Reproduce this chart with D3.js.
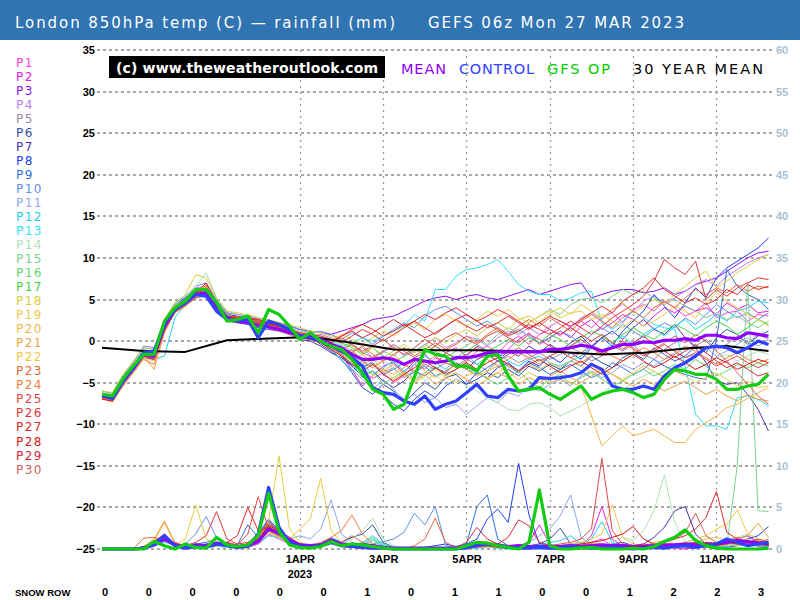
<!DOCTYPE html>
<html>
<head>
<meta charset="utf-8">
<script src="https://cdn.jsdelivr.net/npm/d3@7/dist/d3.min.js"></script>
<style>
html,body{margin:0;padding:0;background:#fff;}
svg{display:block;}
</style>
</head>
<body>
<svg id="chart" width="800" height="600"></svg>
<script>
// ================= DATA =================
const titleLeft = "London 850hPa temp (C) \u2014 rainfall (mm)";
const titleRight = "GEFS 06z Mon 27 MAR 2023";
const hours = [0,6,12,18,24,30,36,42,48,54,60,66,72,78,84,90,96,102,108,114,120,126,132,138,144,150,156,162,168,174,180,186,192,198,204,210,216,222,228,234,240,246,252,258,264,270,276,282,288,294,300,306,312,318,324,330,336,342,348,354,360,366,372,378,384];
const dateTickHours = [114,162,210,258,306,354];
const dateTickLabels = ["1APR","3APR","5APR","7APR","9APR","11APR"];
const yearLabel = "2023";
const tempTicks = [-25,-20,-15,-10,-5,0,5,10,15,20,25,30,35];
const rainTicks = [0,5,10,15,20,25,30,35,40,45,50,55,60];
const snowVals = [0,0,0,0,0,0,1,0,1,1,0,0,1,2,2,3];
const memberNames = ["P1","P2","P3","P4","P5","P6","P7","P8","P9","P10","P11","P12","P13","P14","P15","P16","P17","P18","P19","P20","P21","P22","P23","P24","P25","P26","P27","P28","P29","P30"];
const memberColors = ["#ff40d8","#e020e8","#9010f0","#c080f0","#a088a8","#3050a8","#5030b0","#2040f8","#3070e0","#6090e8","#90a8e8","#20d0f0","#30e0f8","#b0e0b8","#80d090","#60d870","#40d840","#d8d040","#f0c850","#f0b848","#f0a040","#f0c840","#e86838","#f08040","#e04848","#e03838","#e02828","#d81818","#d82838","#d06060"];
const legendItems = ["MEAN","CONTROL","GFS OP","30 YEAR MEAN"];
const legendColors = ["#9000ff","#3040ff","#00cc00","#000000"];
const watermark = "(c) www.theweatheroutlook.com";

// 850hPa temperature (C), 6-hourly
const meanT = [-6.6,-6.8,-4.9,-3.3,-1.6,-1.8,1.8,3.8,4.6,5.6,5.8,4.2,2.8,2.4,2.2,1.9,1.7,1.4,1.0,0.7,0.5,0.2,-0.4,-0.8,-1.6,-2.2,-2.2,-2.0,-2.2,-2.8,-2.2,-2.4,-2.6,-2.4,-2.0,-2.0,-1.8,-1.4,-1.3,-1.3,-1.3,-1.3,-1.3,-1.0,-1.0,-0.8,-0.5,-0.7,-1.2,-0.8,-0.4,-0.4,-0.1,-0.2,0.1,0.1,0.3,0.1,0.7,0.7,0.4,0.3,1.0,0.8,0.6];
const controlT = [-6.5,-6.9,-4.8,-3.2,-1.4,-1.2,2.0,3.8,4.6,5.6,5.4,3.6,2.6,2.4,2.6,0.4,2.4,2.0,1.4,0.6,0.4,0.0,-0.6,-1.2,-2.0,-3.0,-5.6,-6.2,-6.4,-7.2,-7.6,-6.6,-8.2,-7.6,-7.2,-6.2,-5.2,-6.6,-6.8,-5.8,-6.0,-5.8,-4.4,-4.5,-4.4,-4.2,-3.8,-2.8,-3.4,-5.4,-5.8,-5.8,-5.4,-5.8,-4.2,-3.2,-2.6,-1.8,-0.8,-0.6,-0.8,-1.4,-0.8,0.0,-0.4];
const opT = [-6.4,-6.6,-4.6,-3.0,-1.6,-1.6,2.4,4.0,4.8,6.2,6.2,4.6,2.4,2.6,3.0,1.0,3.8,3.2,1.8,0.2,1.0,0.0,-0.6,-1.0,-2.2,-3.8,-5.8,-6.4,-8.2,-7.6,-4.3,-1.0,-1.6,-1.8,-3.0,-3.0,-3.6,-1.8,-1.6,-4.2,-6.0,-5.8,-5.6,-6.4,-7.0,-6.2,-5.4,-7.0,-6.4,-6.0,-5.8,-6.2,-6.8,-6.4,-4.6,-3.4,-3.6,-4.0,-4.0,-4.6,-5.8,-5.8,-5.4,-5.2,-4.0];
const climHours = [0,24,48,72,96,120,144,168,192,216,240,264,288,312,336,360,384];
const climT = [-0.8,-1.2,-1.3,0.1,0.3,0.5,-0.2,-1.0,-1.1,-1.1,-1.2,-1.3,-1.6,-1.4,-0.9,-0.6,-1.2];

const t1 = [-6.5,-6.9,-5.0,-3.4,-1.8,-1.9,1.6,3.6,4.4,5.4,5.9,4.0,2.6,2.4,2.7,2.0,2.3,1.5,1.0,0.4,0.7,0.0,-0.8,-1.5,-2.8,-3.6,-4.5,-3.8,-5.0,-4.2,-2.8,-3.4,-2.0,-2.6,-1.8,-2.4,-1.2,-0.6,-1.4,-0.2,0.6,-0.4,0.8,1.4,0.6,1.8,2.4,1.6,2.8,3.4,2.2,3.8,4.4,3.6,4.8,4.0,3.0,3.6,4.6,2.8,3.4,3.6,2.4,3.2,3.0];
const t2 = [-6.8,-7.0,-4.6,-3.0,-1.4,-1.6,2.0,4.0,4.8,5.8,5.6,4.4,3.0,2.8,2.4,2.4,2.0,1.8,1.4,0.8,0.4,0.4,-0.6,-1.8,-3.4,-5.4,-4.2,-3.0,-2.6,-3.8,-2.4,-1.6,-2.8,-1.4,-0.8,-1.8,-0.6,-1.2,-2.0,-1.0,0.2,1.0,-0.4,0.4,1.2,0.4,1.8,2.6,1.4,2.2,3.2,2.6,1.8,3.0,4.0,3.4,4.2,3.6,4.0,3.2,4.6,3.8,4.4,3.4,3.6];
const t3 = [-6.4,-6.6,-4.8,-3.2,-1.5,-1.4,2.2,4.0,5.0,6.0,6.2,4.6,3.2,3.0,2.8,2.6,2.4,2.2,1.8,1.4,1.2,1.0,0.8,1.2,1.6,2.0,2.6,2.8,3.0,3.6,4.2,4.8,5.2,5.4,5.0,5.4,5.6,5.2,5.0,5.4,5.8,6.2,5.6,6.0,6.4,6.8,7.0,5.2,5.6,6.0,6.2,6.2,5.8,6.0,6.4,5.6,6.0,6.8,7.2,7.6,8.4,9.2,10.0,10.6,10.8];
const t4 = [-6.2,-6.5,-4.4,-3.0,-1.2,-1.2,2.4,4.2,5.2,6.4,6.6,4.8,3.4,3.2,3.0,2.4,2.6,2.0,1.6,1.2,0.8,0.8,0.4,-0.4,-1.2,-0.8,-2.0,-1.4,-0.6,-1.8,-1.2,-0.4,0.4,-0.8,-0.2,0.6,0.2,-0.6,0.4,1.2,0.8,1.6,0.8,1.8,2.4,1.6,2.8,3.4,2.6,3.8,4.4,3.6,4.8,5.4,4.6,5.2,6.0,6.8,7.4,6.6,7.8,8.6,9.4,10.0,10.4];
const t5 = [-6.9,-7.2,-5.2,-3.6,-1.8,-2.0,1.4,3.6,4.2,5.2,5.4,4.0,2.6,2.8,2.4,2.2,1.8,1.8,1.2,0.6,0.4,0.0,-0.6,-1.2,-2.4,-3.0,-2.6,-3.8,-3.2,-4.4,-3.6,-2.8,-3.4,-2.6,-3.0,-2.2,-2.8,-3.6,-2.4,-1.8,-2.6,-2.0,-1.4,-2.2,-1.6,-0.8,-1.4,-2.4,-1.8,-0.6,-1.2,-0.4,-1.6,-2.2,-1.0,-0.2,0.4,-0.6,0.2,-1.0,-0.4,0.6,-0.2,0.8,0.2];
const t6 = [-6.6,-7.0,-5.0,-3.0,-1.2,-1.6,2.0,4.2,4.8,5.8,5.6,4.4,2.8,2.4,2.6,1.8,2.0,1.4,1.0,0.4,0.6,-0.4,-1.2,-2.2,-3.8,-5.6,-6.4,-5.2,-6.0,-7.4,-6.2,-5.0,-5.8,-4.4,-4.0,-5.2,-4.6,-3.8,-4.4,-3.4,-4.2,-3.0,-3.6,-2.8,-3.4,-2.4,-3.0,-1.8,-2.6,-3.2,-2.0,-1.4,-2.2,-0.8,-1.6,-2.4,-1.8,-0.6,-1.4,0.4,1.4,0.8,-0.4,0.6,1.2];
const t7 = [-6.8,-7.3,-5.4,-3.6,-2.0,-2.2,1.2,3.4,4.4,5.2,5.6,3.8,2.4,2.2,2.0,1.6,1.4,1.2,0.8,0.2,0.0,-0.6,-1.4,-2.0,-3.0,-4.2,-3.6,-4.8,-5.6,-4.8,-3.6,-4.2,-3.2,-3.8,-2.6,-3.4,-2.2,-1.6,-2.4,-1.2,-1.8,-0.6,-1.4,-0.4,-1.2,-0.2,0.6,-0.6,0.4,1.2,0.2,1.6,2.6,1.4,0.8,2.0,0.4,-0.8,-2.6,-4.8,-5.2,-5.0,-6.4,-8.2,-10.8];
const t8 = [-6.4,-6.8,-4.6,-2.8,-1.0,-1.4,2.2,4.4,5.2,6.0,6.2,4.6,3.0,2.8,2.2,2.4,1.8,1.6,1.2,0.8,0.2,0.2,-0.4,-1.6,-3.0,-4.2,-5.6,-6.4,-7.6,-8.4,-7.0,-6.0,-6.8,-5.4,-4.6,-5.2,-3.8,-4.4,-3.2,-2.6,-3.6,-2.4,-3.0,-1.8,-2.6,-1.4,-2.2,-0.8,0.4,-0.6,1.2,2.4,3.6,5.6,4.2,2.8,4.6,6.4,5.2,7.6,8.8,9.6,10.4,11.2,12.4];
const t9 = [-6.7,-6.9,-5.1,-3.4,-1.4,-1.9,1.6,3.8,4.6,5.6,6.0,4.2,2.6,2.8,2.6,2.2,2.4,1.4,1.4,0.6,0.8,0.4,-0.2,-0.8,-2.0,-3.2,-2.6,-4.0,-3.4,-2.6,-3.8,-3.0,-4.2,-3.6,-2.8,-3.4,-4.0,-3.2,-2.4,-3.0,-3.8,-2.6,-3.2,-4.0,-3.4,-2.8,-3.6,-4.4,-3.8,-2.6,-3.2,-4.0,-3.4,-2.2,-3.0,-3.6,-4.0,-4.4,-4.6,0.2,8.6,6.6,5.6,5.0,3.8];
const t10 = [-6.0,-6.3,-4.2,-2.6,-0.6,-0.8,2.6,4.6,5.4,6.6,7.0,5.0,3.4,3.2,3.0,2.8,2.4,2.2,1.8,1.4,1.0,1.2,0.8,0.2,1.0,0.4,-0.4,0.6,1.4,2.2,1.6,3.0,3.8,4.2,3.4,2.6,1.8,2.4,1.6,0.8,1.4,0.6,-0.2,0.4,1.2,0.6,-0.4,0.8,1.6,0.8,2.0,1.2,0.4,1.4,2.2,1.6,2.8,2.0,3.2,4.4,3.6,2.8,3.4,2.6,3.4];
const t11 = [-6.3,-6.6,-4.4,-2.8,-0.8,-1.0,2.2,4.0,4.8,5.8,6.0,4.4,3.2,2.6,2.4,2.4,2.0,1.6,1.4,0.8,0.6,0.2,-0.8,-2.4,-3.4,-4.6,-5.8,-4.6,-5.8,-7.0,-6.4,-7.4,-6.8,-8.0,-7.6,-8.8,-7.8,-6.8,-7.4,-6.2,-6.6,-5.4,-6.0,-5.2,-4.6,-5.4,-4.2,-3.6,-4.4,-3.8,-2.8,-3.4,-2.6,-3.0,-2.2,-1.4,-2.0,-1.6,-0.8,-1.8,-1.2,-0.4,0.4,-0.6,0.2];
const t12 = [-6.6,-6.9,-4.8,-3.2,-1.8,-2.2,-1.8,2.8,4.4,5.6,5.4,4.0,2.6,2.8,2.4,2.0,1.8,1.4,1.0,0.4,0.2,-0.2,-1.0,-2.2,-3.6,-2.8,-4.0,-3.2,-2.4,-3.6,-2.8,-1.8,-2.6,-3.4,-2.2,-1.6,-2.8,-2.0,-1.4,-2.4,-3.0,-2.2,-1.8,-2.6,-3.0,-2.4,-1.8,-0.6,-1.4,-0.2,0.6,-0.4,0.8,1.6,0.6,1.8,2.6,1.4,2.2,3.2,2.4,3.6,4.0,4.8,4.6];
const t13 = [-6.5,-6.8,-4.7,-3.0,-1.4,-1.6,2.0,3.8,4.6,5.6,5.8,4.2,2.8,2.6,2.8,2.2,2.0,1.8,1.2,0.8,0.4,0.6,0.0,-0.6,-0.2,0.4,0.0,0.6,1.2,1.8,3.2,2.4,6.2,6.2,7.8,8.6,8.8,9.2,9.8,8.4,6.8,6.0,5.6,5.6,4.8,5.2,5.8,6.0,2.2,1.4,2.4,3.6,2.8,2.0,1.6,1.4,-3.0,-8.8,-10.2,-10.2,-10.6,-6.8,-6.6,-7.0,-7.8];
const t14 = [-6.2,-6.4,-4.4,-2.8,-1.0,-1.2,2.4,4.4,5.4,6.6,8.2,5.2,3.6,3.2,2.8,2.6,2.4,2.0,1.6,1.2,1.0,0.6,0.2,-0.4,-1.2,-2.4,-3.0,-2.2,-3.4,-4.2,-3.6,-4.8,-4.0,-5.2,-4.6,-5.4,-6.0,-6.8,-7.4,-8.2,-8.4,-7.6,-7.4,-8.0,-9.0,-8.4,-7.8,-7.0,-6.2,-5.4,-6.0,-4.8,-4.2,-3.6,-4.4,-3.2,-2.6,-3.4,-2.8,-2.0,-1.6,-2.4,-1.8,-1.2,-1.6];
const t15 = [-6.8,-7.1,-5.0,-3.4,-1.6,-2.0,1.8,3.8,4.8,5.8,6.0,4.2,3.0,2.6,2.6,2.4,2.2,1.6,1.2,0.6,0.6,0.2,-0.4,-1.0,-1.8,-2.6,-2.0,-1.2,-1.8,-0.8,-1.4,-0.4,-1.2,-2.0,-1.2,-0.6,0.4,-0.4,0.8,1.6,1.0,2.2,3.0,3.8,3.2,4.4,5.0,5.2,4.6,5.4,6.2,5.6,6.0,5.2,4.4,5.0,4.2,3.6,2.8,3.4,2.6,3.0,2.2,1.6,2.4];
const t16 = [-6.6,-6.9,-4.9,-3.3,-1.4,-1.6,2.0,4.0,4.6,5.4,5.8,4.0,2.8,2.6,2.4,2.2,2.0,1.6,1.2,0.8,0.4,0.0,-0.6,-1.8,-2.6,-4.4,-3.6,-5.2,-4.4,-3.6,-4.6,-3.8,-3.0,-4.2,-3.4,-2.8,-3.6,-4.6,-5.2,-4.4,-3.6,-4.8,-5.6,-4.6,-4.0,-5.2,-4.4,-3.8,-4.6,-5.4,-4.8,-4.0,-3.4,-4.2,-3.6,-2.8,-3.4,-2.2,-3.0,-4.2,-3.6,-2.8,-3.2,-2.6,-3.0];
const t17 = [-6.4,-6.7,-4.6,-3.0,-1.3,-1.4,2.2,4.2,5.0,6.0,6.4,4.8,3.2,2.8,2.6,2.4,2.2,1.8,1.2,1.0,0.8,0.4,0.2,-0.2,-0.8,-1.6,-0.8,-1.8,-2.6,-1.8,-1.0,-1.6,-0.6,-1.4,-2.0,-1.2,-0.4,-1.2,-0.6,0.2,-0.6,0.4,-0.2,0.8,0.2,-0.6,0.4,1.2,0.6,-0.2,0.8,1.6,0.8,0.2,1.2,2.0,1.4,0.6,1.6,2.4,1.8,0.8,1.6,2.6,2.0];
const t18 = [-6.0,-6.2,-4.0,-2.4,-0.8,-1.0,2.6,4.6,5.6,8.0,7.6,5.2,3.6,3.4,3.2,2.8,2.6,2.2,2.0,1.6,1.2,1.0,0.6,0.2,-0.6,-1.4,-0.8,-2.0,-1.2,-0.4,-1.4,-0.6,0.4,-0.2,0.8,1.4,0.6,1.6,2.2,1.4,2.6,3.0,2.2,3.4,4.0,3.2,4.4,3.6,2.8,3.8,4.6,3.4,4.2,5.0,4.4,5.6,6.6,7.6,8.4,6.4,7.2,8.2,9.0,9.8,10.4];
const t19 = [-6.9,-7.2,-5.2,-3.8,-2.0,-2.4,1.4,3.4,4.4,5.4,5.6,4.0,2.6,2.4,2.2,1.8,1.6,1.2,0.8,0.2,0.4,-0.2,-0.8,-1.6,-2.4,-3.2,-4.2,-3.4,-4.6,-3.8,-5.0,-4.2,-3.4,-4.4,-5.0,-4.2,-3.6,-4.4,-3.8,-3.0,-3.6,-2.8,-3.4,-2.6,-3.2,-2.4,-3.0,-3.8,-3.2,-4.0,-4.6,-3.8,-3.0,-3.6,-4.4,-3.6,-4.2,-5.0,-4.4,-3.8,-4.6,-5.4,-4.8,-5.6,-5.4];
const t20 = [-6.5,-6.8,-4.8,-3.2,-1.6,-1.6,2.0,4.0,4.6,5.6,5.8,4.2,2.8,2.6,2.6,2.2,2.0,1.6,1.2,0.6,0.6,0.2,-0.4,-1.2,-2.0,-2.8,-2.2,-3.4,-4.0,-3.2,-2.4,-3.6,-4.4,-3.6,-2.8,-3.4,-4.2,-3.6,-3.0,-3.8,-4.6,-3.8,-4.4,-5.0,-4.6,-5.0,-5.4,-9.0,-12.6,-11.4,-10.2,-11.4,-11.0,-10.6,-11.4,-12.2,-12.2,-10.6,-9.8,-9.0,-8.0,-7.6,-6.9,-6.2,-5.6];
const t21 = [-6.7,-7.0,-5.0,-3.5,-1.8,-3.4,1.0,3.6,4.4,5.4,5.8,4.0,2.8,2.4,2.4,2.0,2.0,1.4,1.0,0.4,0.6,0.0,-0.6,-1.4,-2.2,-1.6,-2.8,-3.6,-2.8,-4.0,-4.8,-4.0,-5.2,-4.4,-3.8,-4.6,-5.4,-4.6,-3.8,-4.4,-5.2,-4.4,-5.0,-4.2,-3.6,-4.4,-5.0,-4.2,-3.4,-4.0,-4.8,-5.4,-4.6,-5.2,-6.0,-5.4,-4.8,-5.6,-6.4,-5.8,-6.6,-7.2,-6.4,-7.0,-7.2];
const t22 = [-6.3,-6.5,-4.4,-2.8,-1.2,-1.4,2.4,4.2,5.0,6.2,6.6,4.6,3.0,2.8,2.8,2.6,2.2,2.0,1.6,1.0,0.8,0.6,0.2,0.8,0.2,-0.4,0.4,1.2,0.6,1.6,2.2,1.4,2.6,3.2,2.4,1.8,2.6,3.6,3.0,3.8,2.8,2.2,3.0,3.6,2.8,3.4,3.6,2.6,3.2,2.4,1.6,2.6,1.8,2.4,3.2,4.2,3.6,2.8,4.6,5.8,4.8,4.0,3.2,2.6,1.8];
const t23 = [-6.8,-7.0,-5.1,-3.4,-1.8,-1.6,1.6,3.8,4.2,5.4,6.8,3.4,2.8,3.0,2.4,2.2,2.0,1.6,1.2,0.8,0.6,0.2,-0.2,-0.8,-1.4,-0.6,-1.6,-2.4,-1.6,-0.8,-1.8,-1.0,-0.2,-1.0,-0.4,0.6,-0.2,0.8,1.6,0.8,1.8,2.6,1.8,2.8,2.0,1.2,2.4,3.2,2.4,1.6,2.8,3.6,2.8,4.0,4.8,4.0,5.2,6.2,5.6,6.4,5.8,6.8,6.0,6.6,6.4];
const t24 = [-6.9,-7.3,-5.4,-3.8,-2.2,-2.8,1.2,3.4,4.2,5.2,5.6,3.8,2.4,2.2,2.4,2.0,1.8,1.2,1.0,0.4,0.2,-0.2,-0.8,-1.6,-1.0,-2.4,-3.2,-2.4,-1.6,-2.8,-3.6,-2.6,-1.8,-2.6,-3.2,-2.4,-1.6,-2.2,-3.0,-2.2,-1.4,-2.0,-2.8,-1.8,-1.2,-2.0,-2.6,-1.8,-1.0,-1.8,-2.4,-1.6,-0.8,-1.4,-2.2,-1.6,-0.6,-1.2,-2.0,-2.8,-2.0,-1.4,-2.2,-2.6,-2.2];
const t25 = [-6.6,-7.0,-4.8,-3.2,-1.6,-2.0,1.8,3.6,4.6,5.6,6.2,4.0,2.6,2.6,2.8,2.4,2.0,1.8,1.4,0.8,0.4,0.2,-0.2,0.4,-0.4,-1.2,-0.6,0.2,-0.8,-1.6,-0.8,0.2,-0.6,0.4,1.0,0.2,-0.4,0.6,1.2,0.4,-0.2,0.8,0.2,-0.6,-1.4,-0.6,0.2,-0.8,-1.6,-0.8,0.0,-1.0,-1.8,-1.2,-0.4,-1.2,-2.0,-1.4,-2.2,-3.0,-2.4,-1.8,-2.6,-3.2,-2.6];
const t26 = [-6.4,-6.6,-4.6,-3.0,-1.4,-1.6,2.0,4.0,5.0,5.8,6.4,4.4,3.0,2.8,2.6,2.6,2.2,1.8,1.4,1.0,0.8,0.6,0.2,-0.2,0.6,1.4,0.8,0.0,0.8,1.6,2.4,1.6,0.8,1.8,2.6,1.8,1.2,2.0,1.4,0.6,1.2,2.0,1.4,0.8,1.6,2.4,1.6,0.8,1.8,2.8,3.6,4.4,5.4,7.2,9.8,8.8,8.0,9.6,5.0,6.2,5.4,6.4,7.0,7.6,7.4];
const t27 = [-6.7,-7.0,-4.9,-3.3,-1.5,-1.8,1.8,4.0,4.8,5.8,6.2,4.4,2.8,2.6,2.6,2.2,2.2,1.6,1.2,0.6,0.6,0.2,-0.2,0.6,1.4,2.0,1.4,0.6,1.2,2.0,1.2,0.4,1.0,1.8,2.6,3.2,2.4,1.6,2.2,3.0,2.2,1.4,2.2,3.0,2.4,1.8,2.6,3.4,4.2,3.4,4.8,5.6,6.4,7.6,6.2,5.4,4.6,5.2,4.4,5.0,6.2,5.6,6.8,6.2,6.6];
const t28 = [-7.0,-7.2,-5.0,-3.4,-1.8,-2.2,1.4,3.6,4.4,5.4,5.8,4.0,2.4,2.6,2.2,1.8,1.6,1.4,1.0,0.4,0.2,-0.2,-1.0,-1.8,-2.8,-3.6,-2.8,-4.0,-4.8,-4.0,-3.2,-2.4,-3.2,-4.0,-3.4,-2.6,-3.4,-2.6,-2.0,-2.8,-3.6,-2.8,-2.2,-3.0,-3.8,-3.0,-2.4,-3.2,-4.0,-3.2,-2.4,-1.6,-2.4,-3.2,-2.6,-1.8,-2.6,-3.4,-2.8,-2.0,-2.6,-3.4,-2.8,-2.2,-2.6];
const t29 = [-6.5,-6.8,-4.7,-3.1,-1.5,-1.6,2.0,4.0,4.8,5.8,7.0,4.6,3.0,2.8,2.8,2.6,2.0,1.8,1.4,0.8,0.6,0.4,0.0,0.6,1.2,0.4,1.0,1.8,2.6,1.8,2.4,3.2,2.6,3.4,4.0,3.2,2.4,3.0,3.8,3.2,2.4,1.6,2.2,1.4,0.8,1.6,0.8,0.0,0.8,-0.2,-1.0,-0.2,0.6,-0.4,-1.2,-2.0,-1.2,-0.4,-1.4,-2.4,-3.2,-2.6,-3.4,-4.2,-3.8];
const t30 = [-6.8,-7.1,-5.1,-3.5,-1.7,-2.0,1.6,3.8,4.4,5.4,5.8,4.2,2.8,2.4,2.4,2.0,1.8,1.4,1.2,0.6,0.4,0.0,-0.4,-1.0,-0.4,-1.4,-2.0,-1.2,-0.4,-1.2,-2.0,-1.4,-0.6,-1.4,-2.2,-1.6,-0.8,-1.6,-2.4,-1.6,-0.8,-1.6,-2.4,-1.8,-1.2,-2.0,-1.4,-0.6,-1.4,-0.8,0.0,-0.8,-1.6,-1.0,-0.2,0.6,-0.2,0.8,0.0,-1.2,-2.4,-3.8,-5.2,-6.6,-7.6];

// rainfall (mm), 6-hourly
const meanR = [0,0,0,0,0.1,0.5,1.2,0.5,0.2,0.5,0.4,0.7,0.5,0.3,0.4,0.9,2.4,1.9,1.1,0.5,0.4,0.5,1.1,0.6,0.5,0.5,0.4,0.2,0.1,0.1,0.1,0.1,0.1,0.1,0.1,0.2,0.5,0.6,0.5,0.3,0.4,0.3,0.3,0.3,0.3,0.4,0.3,0.4,0.5,0.4,0.4,0.3,0.3,0.4,0.5,0.5,0.6,0.5,0.5,0.6,0.8,1.0,0.9,0.7,0.6];
const controlR = [0,0,0,0,0.1,0.6,1.6,0.4,0.1,0.3,0.2,0.6,0.4,0.2,0.3,1.8,7.4,2.6,0.8,0.3,0.2,0.4,0.8,0.4,0.3,0.2,0.1,0.1,0,0,0,0,0,0,0,0.2,0.4,0.6,0.4,0.2,0.1,0.1,0.2,0.1,0.1,0.3,0.2,0.1,0.1,0.2,0.1,0,0.1,0.2,0.1,0.3,0.4,0.2,0.4,0.6,1.2,0.8,0.4,0.6,0.8];
const opR = [0,0,0,0,0,0.9,0.4,0,0.6,0.2,0.1,1.4,0.5,0.3,0.5,1.6,6.7,2.1,0.5,0.2,0.1,0.3,0.9,0.4,0.6,0.5,0.3,0.1,0,0,0,0,0,0,0,0.4,0.8,0.7,0.4,0.2,0,0.8,7.1,0.4,0,0,0.1,0.2,0,0,0,0.1,0,0.3,0.9,1.4,2.3,1.0,0.4,0.1,0,0,0,0,0.1];

const r1 = [0,0,0,0,0.2,0.8,1.4,0.3,0,0.2,0.1,0.4,0.3,0.1,0.2,0.6,1.8,1.2,0.6,0.2,0.1,0.3,0.6,0.3,0.2,0.1,0,0,0,0,0,0,0,0,0,0.1,0.3,0.4,0.2,0.1,0.2,0.3,0.6,0.2,0,0.1,0.3,0.8,1.2,0.4,0.1,0,0.2,0.4,0.6,0.2,0.1,0.3,0.5,0.4,0.6,1.0,0.8,0.3,0.2];
const r2 = [0,0,0,0,0.1,0.6,1.8,0.4,0.1,0.3,0.2,0.8,0.4,0.2,0.3,0.8,2.2,1.4,0.8,0.3,0.2,0.4,1.0,0.4,0.6,0.3,0.1,0,0,0,0,0,0,0,0,0.2,0.4,0.6,0.3,0.2,0.4,0.8,2.9,0.6,0.2,0.1,0.4,1.6,5.1,1.2,0.3,0.1,0,0.2,0.3,0.1,0,0.2,0.4,0.3,0.5,0.8,0.6,0.4,0.3];
const r3 = [0,0,0,0,0.1,0.5,1.0,0.6,0.2,0.4,0.3,0.5,0.4,0.2,0.4,1.0,2.6,2.0,1.0,0.4,0.3,0.5,0.8,0.4,0.2,0.1,0.1,0,0,0,0,0,0,0,0,0,0.2,0.3,0.2,0.1,0.1,0.2,0.1,0,0,0,0.1,0.2,0.1,0,0,0,0.1,0.2,0.3,0.4,0.2,0.1,0.3,0.5,0.8,1.2,1.6,0.8,0.4];
const r4 = [0,0,0,0,0,0.4,1.2,0.8,0.3,0.2,0.1,0.6,0.3,0.1,0.3,1.2,3.0,2.4,1.2,0.6,0.4,0.6,1.2,0.5,0.3,0.2,0.1,0.1,0,0,0,0,0,0,0,0.1,0.3,0.4,0.3,0.2,0.1,0.1,0.2,0.1,0,0.1,0.2,0.1,0.2,0.3,0.1,0,0,0.1,0.2,0.1,0.3,0.6,0.4,0.2,0.4,0.7,1.0,0.6,0.8];
const r5 = [0,0,0,0,0.1,0.7,1.6,0.5,0.2,0.3,0.2,0.4,0.3,0.2,0.2,0.6,1.6,1.4,0.8,0.4,0.2,0.3,0.7,0.4,0.3,0.2,0.1,0,0,0,0,0,0,0,0,0.1,0.2,0.4,0.3,0.1,0.2,0.1,0.3,0.2,0.1,0.2,0.3,0.2,0.4,0.3,0.2,0.1,0.2,0.3,0.2,0.4,0.6,0.3,0.2,0.4,0.6,0.9,0.7,0.5,0.3];
const r6 = [0,0,0,0,0.2,0.8,1.4,0.4,0.1,0.2,0.4,0.6,0.8,0.3,0.5,1.6,3.4,2.0,1.0,0.4,0.3,0.6,1.2,0.8,1.4,1.8,2.9,0.8,0.2,0,0,0,0,0,0,0.2,0.4,0.8,0.5,0.3,0.2,0.4,0.6,1.2,2.5,0.6,0.8,0.2,0.1,0.2,0.1,0,0.1,0.3,0.4,0.2,0.4,0.6,0.3,0.5,0.8,0.6,0.4,0.9,0.6];
const r7 = [0,0,0,0,0.1,0.4,1.0,0.6,0.2,0.1,0.3,0.4,0.6,0.2,0.4,1.4,2.8,1.8,0.9,0.5,0.3,0.4,0.9,0.5,0.4,0.3,0.2,0.1,0,0,0,0,0,0,0,0.2,0.4,0.5,0.4,0.2,0.3,0.2,0.1,0.2,0.4,0.6,0.3,0.2,0.3,0.6,0.8,0.4,0.6,1.4,2.6,4.6,5.1,1.8,0.6,0.3,0.2,0.4,0.6,0.5,0.4];
const r8 = [0,0,0,0,0.1,0.6,1.2,0.5,0.2,0.3,0.6,0.8,0.5,0.3,0.6,1.8,3.6,2.2,1.2,0.5,0.3,0.5,1.0,0.6,0.5,0.4,0.2,0.1,0.1,0,0,0.2,0.4,0.6,0.3,0.6,1.2,3.6,4.8,3.2,10.3,4.1,0.6,0.4,0.2,0.3,0.2,0.4,0.3,0.2,0.3,0.2,0.1,0.3,0.5,0.4,0.6,0.8,0.5,0.4,0.6,0.8,1.2,1.6,2.7];
const r9 = [0,0,0,0,0.2,0.7,1.5,0.4,0.2,0.6,0.8,1.2,0.6,0.5,2.9,1.4,2.4,1.6,1.0,0.4,0.2,0.4,0.8,0.6,0.4,0.2,0.1,0,0,0,0,0,0,0,0.1,0.6,5.1,6.5,1.2,0.4,0.3,0.2,0.4,0.3,0.2,0.4,0.6,0.3,0.2,0.1,0.2,0.3,0.4,0.2,0.3,0.5,0.4,0.6,0.8,0.4,0.6,0.9,0.7,0.6,0.5];
const r10 = [0,0,0,0,0.1,0.5,1.0,0.3,0.6,1.8,3.9,1.4,0.6,0.4,0.5,1.2,2.6,1.8,0.8,0.4,0.3,0.5,1.2,0.8,0.6,0.4,0.6,0.9,1.2,2.0,4.3,2.9,5.1,0.4,0.2,0.1,0.3,0.4,0.2,0.1,0.2,0.1,0.2,0.3,0.2,0.1,0.2,0.3,0.1,0.2,0.1,0.2,0.3,0.2,0.4,0.3,0.2,0.4,0.6,0.5,0.8,0.6,0.5,0.7,0.6];
const r11 = [0,0,0,0,0.1,0.6,1.2,0.4,0.2,0.3,0.2,0.4,0.5,0.3,0.4,1.0,2.2,1.6,1.2,1.6,1.2,2.4,5.9,1.8,0.8,0.4,0.2,0.1,0,0,0,0,0,0,0,0.1,0.2,0.4,0.3,0.2,0.4,0.8,1.6,2.4,4.0,6.5,1.4,0.6,0.2,0.1,0.2,0.1,0.2,0.3,0.2,0.4,0.3,0.5,0.4,0.6,0.5,0.8,0.6,0.4,0.5];
const r12 = [0,0,0,0,0.1,0.5,0.9,0.6,0.3,0.2,0.3,0.5,0.4,0.3,0.6,1.4,2.2,1.8,1.2,0.6,0.4,0.6,1.4,0.8,0.4,0.6,1.2,0.4,0.1,0,0,0,0,0,0,0.1,0.3,0.5,0.4,0.2,0.2,0.3,0.5,0.8,1.0,1.6,0.6,1.2,3.3,0.8,0.3,0.2,0.1,0.2,0.3,0.2,0.4,0.3,0.5,0.4,0.6,0.8,0.5,0.4,0.3];
const r13 = [0,0,0,0,0,0.3,0.8,0.5,0.2,0.1,0.2,0.3,0.2,0.1,0.3,0.8,1.6,1.4,0.8,0.3,0.2,0.3,0.6,0.4,0.2,0.8,1.6,0.6,0.2,0.1,0,0,0,0,0,0,0.1,0.2,0.1,0,0,0.1,0,0,0.1,0.2,0.1,0,0.2,0.1,0,0.1,0.2,0.1,0.3,0.4,0.8,1.2,0.6,0.4,0.3,0.5,0.4,0.6,0.4];
const r14 = [0,0,0,0,0.1,0.6,1.4,0.6,0.3,0.2,0.1,0.3,0.4,0.2,0.3,0.9,2.0,1.6,1.0,0.4,0.3,0.4,0.8,0.6,1.2,2.2,3.7,1.2,0.4,0.1,0,0,0,0,0,0.1,0.2,0.3,0.2,0.1,0.2,0.1,0.3,0.2,0.4,0.6,0.3,0.2,0.4,0.8,1.4,1.0,2.2,4.6,8.9,3.2,0.8,0.4,0.6,0.8,1.0,1.4,1.8,1.2,1.0];
const r15 = [0,0,0,0,0.2,0.8,1.6,0.4,0.2,0.3,0.2,0.6,0.4,0.2,0.4,1.2,2.4,1.6,0.8,0.4,0.2,0.4,0.8,0.6,0.4,0.8,1.4,0.5,0.2,0.1,0,0,0,0,0,0.1,0.3,0.4,0.2,0.1,0.1,0.2,0.3,0.2,0.1,0.2,0.4,0.2,0.1,0.2,0.1,0.2,0.3,0.4,0.6,0.4,0.8,0.6,0.4,0.3,0.4,10,32,4.6,4.5];
const r16 = [0,0,0,0,0.1,0.5,1.2,0.6,0.3,0.2,0.3,0.4,0.6,0.3,0.4,1.0,2.0,1.6,1.0,0.4,0.3,0.5,0.9,0.6,0.3,0.4,1.0,0.3,0.1,0,0,0,0,0,0,0.1,0.4,0.6,0.3,0.2,0.3,0.2,0.4,0.3,0.2,0.3,0.5,0.3,0.4,0.2,0.1,0.2,0.3,0.2,0.4,0.5,0.3,0.6,0.8,0.6,1.2,0.8,0.6,0.9,0.7];
const r17 = [0,0,0,0,0.2,0.6,1.0,0.4,0.1,0.3,0.4,0.5,0.3,0.2,0.5,1.4,2.8,1.8,0.8,0.3,0.2,0.4,0.7,0.4,0.3,0.2,0.1,0,0,0,0,0,0,0,0,0.2,0.3,0.5,0.3,0.1,0.2,0.3,0.2,0.1,0.2,0.4,0.2,0.3,0.5,0.3,0.2,0.1,0.2,0.4,0.3,0.6,0.4,0.3,0.5,0.6,0.8,0.6,0.4,0.5,0.6];
const r18 = [0,0,0,0,0.2,0.8,1.8,0.6,0.2,0.4,0.3,0.6,0.5,0.3,0.4,1.2,3.4,11.2,2.4,0.8,0.4,0.6,1.2,0.6,0.4,0.2,0.1,0,0,0,0,0,0,0,0,0.1,0.2,0.3,0.2,0.1,0.2,0.1,0.3,0.2,0.1,0.2,0.3,0.4,0.2,0.1,0.2,0.3,0.2,0.4,0.3,0.2,0.5,0.4,0.6,0.8,0.6,0.4,0.8,0.6,0.4];
const r19 = [0,0,0,0,0.1,0.6,1.2,0.5,0.3,0.4,0.2,0.5,0.4,0.3,0.5,1.0,2.0,1.6,1.2,0.6,0.3,0.5,0.8,0.5,0.6,0.4,0.2,0.1,0,0,0,0,0,0,0,0.1,0.2,0.4,0.2,0.1,0.2,0.3,0.4,0.2,0.3,0.6,0.8,1.2,1.8,5.3,1.4,0.6,0.3,0.2,0.4,0.3,0.2,0.4,0.6,0.4,0.5,0.8,1.2,0.6,0.4];
const r20 = [0,0,0,0,0.3,1.2,3.4,0.8,0.3,0.4,0.3,0.6,0.4,0.2,0.4,1.0,2.2,1.8,1.0,0.5,0.3,0.5,1.0,0.6,0.4,0.3,0.1,0,0,0,0,0,0,0,0,0.1,0.2,0.3,0.2,0.1,0.1,0.2,0.3,0.2,0.3,0.4,0.6,0.8,0.6,0.4,0.3,0.6,0.4,0.8,1.0,0.6,0.4,0.8,1.2,1.4,1.0,0.8,0.6,0.8,1.0];
const r21 = [0,0,0,0,0.2,1.0,3.2,0.6,0.2,0.3,0.2,0.6,0.5,0.2,0.4,1.2,2.4,1.8,0.9,0.4,0.3,0.4,0.8,0.5,0.3,0.2,0.1,0,0,0,0,0,0,0,0,0.1,0.3,0.4,0.3,0.1,0.2,0.1,0.2,0.3,0.2,0.3,0.4,0.2,0.3,0.2,0.1,0.2,0.3,0.4,0.3,0.5,0.4,0.6,0.8,0.6,0.9,1.2,1.6,3.1,1.4];
const r22 = [0,0,0,0,0.1,0.5,1.0,0.4,1.2,5.3,1.2,0.6,0.4,0.3,0.4,1.0,2.0,1.4,1.2,2.4,3.6,8.5,2.2,0.8,0.4,0.2,0.1,0,0,0,0,0,0,0,0,0.1,0.2,0.3,0.2,0.1,0.2,0.3,0.2,0.1,0.2,0.3,0.4,0.6,0.4,0.3,0.2,0.3,0.4,0.3,0.5,0.6,0.8,1.2,1.6,2.4,3.0,4.7,1.8,1.2,0.8];
const r23 = [0,0,0,0,1.3,1.4,1.0,0.6,0.2,0.3,0.4,0.8,0.5,0.3,0.6,1.6,3.0,2.2,1.0,0.6,0.4,0.6,1.0,0.8,1.6,0.8,0.4,0.2,0.1,0,0.4,1.2,3.7,0.8,0.2,0.1,0.3,0.6,0.4,0.2,0.1,0.2,0.3,0.2,0.1,0.2,0.4,0.6,0.4,0.2,0.3,0.2,0.4,0.3,0.2,0.4,0.6,0.5,0.8,0.6,1.0,1.4,0.8,0.6,1.2];
const r24 = [0,0,0,0,0.2,0.8,1.6,0.6,0.2,0.4,0.3,0.6,0.4,0.3,0.5,1.4,2.6,2.0,1.2,0.6,0.4,0.8,1.4,2.2,4.1,1.8,0.6,0.2,0.1,0,0,0,0,0,0,0.1,0.3,0.5,0.3,0.2,0.2,0.3,0.2,0.4,0.3,0.2,0.4,0.6,0.3,0.2,0.3,0.4,0.2,0.3,0.5,0.4,0.6,0.8,0.6,0.4,0.8,1.0,0.6,0.8,0.6];
const r25 = [0,0,0,0,0.3,0.6,1.2,0.8,0.3,0.2,0.4,0.6,0.8,0.5,1.8,6.3,2.4,1.6,1.0,0.5,0.3,0.5,0.9,0.6,0.4,0.3,0.1,0,0,0,0,0,0,0,0,0.1,0.3,0.4,0.3,0.2,0.1,0.2,0.3,0.4,0.6,0.8,1.2,2.4,10.9,2.2,0.6,0.4,0.3,0.2,0.4,0.3,0.5,0.4,0.6,0.8,1.0,0.6,0.8,1.2,0.8];
const r26 = [0,0,0,0,0.2,0.9,1.8,0.6,0.4,0.8,1.6,4.5,1.2,0.6,0.8,1.6,3.2,2.0,1.2,0.4,0.3,0.5,0.8,0.6,0.3,0.2,0.1,0,0,0,0,0,0,0,0,0.2,0.4,0.6,0.4,0.2,0.3,0.2,0.4,0.3,0.2,0.4,0.3,0.2,0.4,0.3,0.2,0.4,0.3,0.5,0.4,0.3,0.6,0.8,0.6,0.4,0.6,1.0,0.8,0.6,0.4];
const r27 = [0,0,0,0,0.1,0.6,1.4,0.5,0.2,0.3,0.4,0.6,0.8,1.6,5.0,2.2,2.6,1.8,0.8,0.4,0.3,0.4,0.7,0.5,0.3,0.2,0.1,0,0,0,0,0,0,0,0,0.1,0.3,0.4,0.2,0.1,0.2,0.1,0.3,0.2,0.3,0.4,0.3,0.2,0.4,0.3,0.2,0.4,0.6,0.4,0.8,1.2,1.6,2.4,3.8,6.9,2.0,1.2,0.8,1.0,0.6];
const r28 = [0,0,0,0,0.2,0.7,1.3,0.5,0.3,0.2,0.3,0.5,0.6,0.4,0.6,1.2,2.8,2.2,1.4,0.6,0.4,0.6,1.0,0.6,0.4,0.2,0.1,0,0,0,0,0,0,0,0,0.2,0.4,0.6,0.4,0.2,0.3,0.2,0.4,0.3,0.2,0.4,0.6,0.8,1.0,1.4,1.8,2.7,1.2,0.6,0.4,0.3,0.5,0.6,0.4,0.6,0.8,0.6,0.9,0.7,0.5];
const r29 = [0,0,0,0,0.2,0.6,1.1,0.4,0.2,0.3,0.2,0.4,0.5,0.3,0.4,1.2,2.6,2.0,1.0,0.5,0.4,0.6,1.1,0.7,0.4,0.3,0.2,0.1,0,0,0,0,0,0,0.2,0.8,2.6,1.2,0.6,1.4,3.5,2.8,0.8,0.4,0.2,0.3,0.2,0.4,0.3,0.2,0.3,0.2,0.4,0.3,0.5,0.4,0.6,0.4,0.8,0.6,0.9,0.7,0.6,0.8,0.6];
const r30 = [0,0,0,0,0.1,0.5,1.0,0.4,0.2,0.2,0.3,0.5,0.4,0.3,0.4,1.0,2.2,1.6,0.9,0.5,0.3,0.5,0.9,0.6,0.4,0.3,0.1,0,0,0,0,0,0,0,0,0.1,0.2,0.4,0.3,0.1,0.2,0.3,0.2,0.3,0.2,0.4,0.3,0.2,0.4,0.3,0.2,0.4,0.3,0.6,0.8,1.2,2.0,4.3,1.6,0.8,0.6,0.9,0.7,0.5,0.6];

const memberTemps = [t1,t2,t3,t4,t5,t6,t7,t8,t9,t10,t11,t12,t13,t14,t15,t16,t17,t18,t19,t20,t21,t22,t23,t24,t25,t26,t27,t28,t29,t30];
const memberRains = [r1,r2,r3,r4,r5,r6,r7,r8,r9,r10,r11,r12,r13,r14,r15,r16,r17,r18,r19,r20,r21,r22,r23,r24,r25,r26,r27,r28,r29,r30];

// ================= DRAW =================
const svg = d3.select("#chart");
const W = 800, H = 600;
const plotL = 102, plotR = 768.5, plotT = 50, plotB = 549;
const x = d3.scaleLinear().domain([0, 384]).range([plotL, plotR]);
const yT = d3.scaleLinear().domain([-25, 35]).range([plotB, plotT]);
const yR = d3.scaleLinear().domain([0, 60]).range([plotB, plotT]);
const axisFont = "'Liberation Sans', Arial, sans-serif";
const legendFont = "'DejaVu Sans', sans-serif";

svg.append("rect").attr("width", W).attr("height", H).attr("fill", "#fff");

// title bar
svg.append("rect").attr("x", 0).attr("y", 0).attr("width", W).attr("height", 40).attr("fill", "#3074b2");
svg.append("text").attr("x", 15).attr("y", 28).attr("fill", "#fff")
  .attr("font-family", legendFont).attr("font-size", 15)
  .attr("textLength", 380).attr("lengthAdjust", "spacing").text(titleLeft);
svg.append("text").attr("x", 428).attr("y", 28).attr("fill", "#fff")
  .attr("font-family", legendFont).attr("font-size", 15)
  .attr("textLength", 256).attr("lengthAdjust", "spacing").text(titleRight);

// horizontal grid
const grid = svg.append("g");
grid.selectAll("line.h").data(tempTicks).join("line")
  .attr("x1", 97).attr("x2", 774)
  .attr("y1", d => Math.round(yT(d))).attr("y2", d => Math.round(yT(d)))
  .attr("stroke", "#a8a8a8").attr("stroke-width", 2).attr("stroke-dasharray", "3,3");
// vertical grid
grid.selectAll("line.v").data(dateTickHours).join("line")
  .attr("x1", d => Math.round(x(d)) + 0.5).attr("x2", d => Math.round(x(d)) + 0.5)
  .attr("y1", plotT).attr("y2", plotB + 4)
  .attr("stroke", "#999").attr("stroke-width", 1.3).attr("stroke-dasharray", "2,4");

// left axis
const la = svg.append("g").attr("transform", "translate(96,0)")
  .call(d3.axisLeft(yT).tickValues(tempTicks).tickSize(0).tickPadding(1));
la.select(".domain").remove();
la.selectAll("text").attr("font-family", axisFont).attr("font-weight", "bold")
  .attr("font-size", 11).attr("fill", "#000");

// right axis
const ra = svg.append("g").attr("transform", "translate(775,0)")
  .call(d3.axisRight(yR).tickValues(rainTicks).tickSize(0).tickPadding(1));
ra.select(".domain").remove();
ra.selectAll("text").attr("font-family", axisFont).attr("font-weight", "bold")
  .attr("font-size", 11).attr("fill", "#a9c0d2");

// bottom date labels
const ba = svg.append("g").attr("transform", `translate(0,${plotB + 6})`)
  .call(d3.axisBottom(x).tickValues(dateTickHours).tickSize(0).tickPadding(0)
    .tickFormat((d, i) => dateTickLabels[i]));
ba.select(".domain").remove();
ba.selectAll("text").attr("font-family", axisFont).attr("font-weight", "bold")
  .attr("font-size", 11).attr("fill", "#000");
svg.append("text").attr("x", x(dateTickHours[0])).attr("y", 578)
  .attr("text-anchor", "middle").attr("font-family", axisFont).attr("font-weight", "bold")
  .attr("font-size", 11).text(yearLabel);

// snow row
svg.append("text").attr("x", 15).attr("y", 596).attr("font-family", axisFont)
  .attr("font-weight", "bold").attr("font-size", 9.5).text("SNOW ROW");
const sx = d3.scalePoint().domain(d3.range(snowVals.length)).range([105, 761]);
svg.append("g").selectAll("text").data(snowVals).join("text")
  .attr("x", (d, i) => sx(i)).attr("y", 596).attr("text-anchor", "middle")
  .attr("font-family", axisFont).attr("font-weight", "bold").attr("font-size", 11)
  .text(d => d);

// series
const lineT = d3.line().x((d, i) => x(hours[i])).y(d => yT(d));
const lineR = d3.line().x((d, i) => x(hours[i])).y(d => yR(d));
const lines = svg.append("g").attr("fill", "none").attr("stroke-linejoin", "round");
memberTemps.forEach((s, k) => {
  lines.append("path").attr("d", lineT(s)).attr("stroke", memberColors[k]).attr("stroke-width", 1);
  lines.append("path").attr("d", lineR(memberRains[k])).attr("stroke", memberColors[k]).attr("stroke-width", 1);
});
const lineC = d3.line().x((d, i) => x(climHours[i])).y(d => yT(d));
lines.append("path").attr("d", lineC(climT)).attr("stroke", "#000").attr("stroke-width", 2);
lines.append("path").attr("d", lineT(meanT)).attr("stroke", legendColors[0]).attr("stroke-width", 3.2);
lines.append("path").attr("d", lineR(meanR)).attr("stroke", legendColors[0]).attr("stroke-width", 3.2);
lines.append("path").attr("d", lineT(controlT)).attr("stroke", legendColors[1]).attr("stroke-width", 3.2);
lines.append("path").attr("d", lineR(controlR)).attr("stroke", legendColors[1]).attr("stroke-width", 3.2);
lines.append("path").attr("d", lineT(opT)).attr("stroke", "#11cc11").attr("stroke-width", 3.2);
lines.append("path").attr("d", lineR(opR)).attr("stroke", "#11cc11").attr("stroke-width", 3.2);

// watermark box
svg.append("rect").attr("x", 109).attr("y", 56).attr("width", 276).attr("height", 22).attr("fill", "#000");
svg.append("text").attr("x", 116).attr("y", 73).attr("fill", "#fff")
  .attr("font-family", legendFont).attr("font-weight", "bold").attr("font-size", 14)
  .attr("textLength", 262).attr("lengthAdjust", "spacing").text(watermark);

// top legend
const legX = [401, 459, 547, 633];
const legW = [45, 75, 63, 130];
svg.append("g").selectAll("text").data(legendItems).join("text")
  .attr("x", (d, i) => legX[i]).attr("y", 74)
  .attr("fill", (d, i) => legendColors[i])
  .attr("font-family", legendFont).attr("font-size", 14.5)
  .attr("textLength", (d, i) => legW[i]).attr("lengthAdjust", "spacing")
  .text(d => d);

// member legend (left)
svg.append("g").selectAll("text").data(memberNames).join("text")
  .attr("x", 16).attr("y", (d, i) => 66.7 + i * 14.03)
  .attr("fill", (d, i) => memberColors[i])
  .attr("font-family", legendFont).attr("font-size", 12)
  .attr("letter-spacing", 1.4)
  .text(d => d);
</script>
</body>
</html>
